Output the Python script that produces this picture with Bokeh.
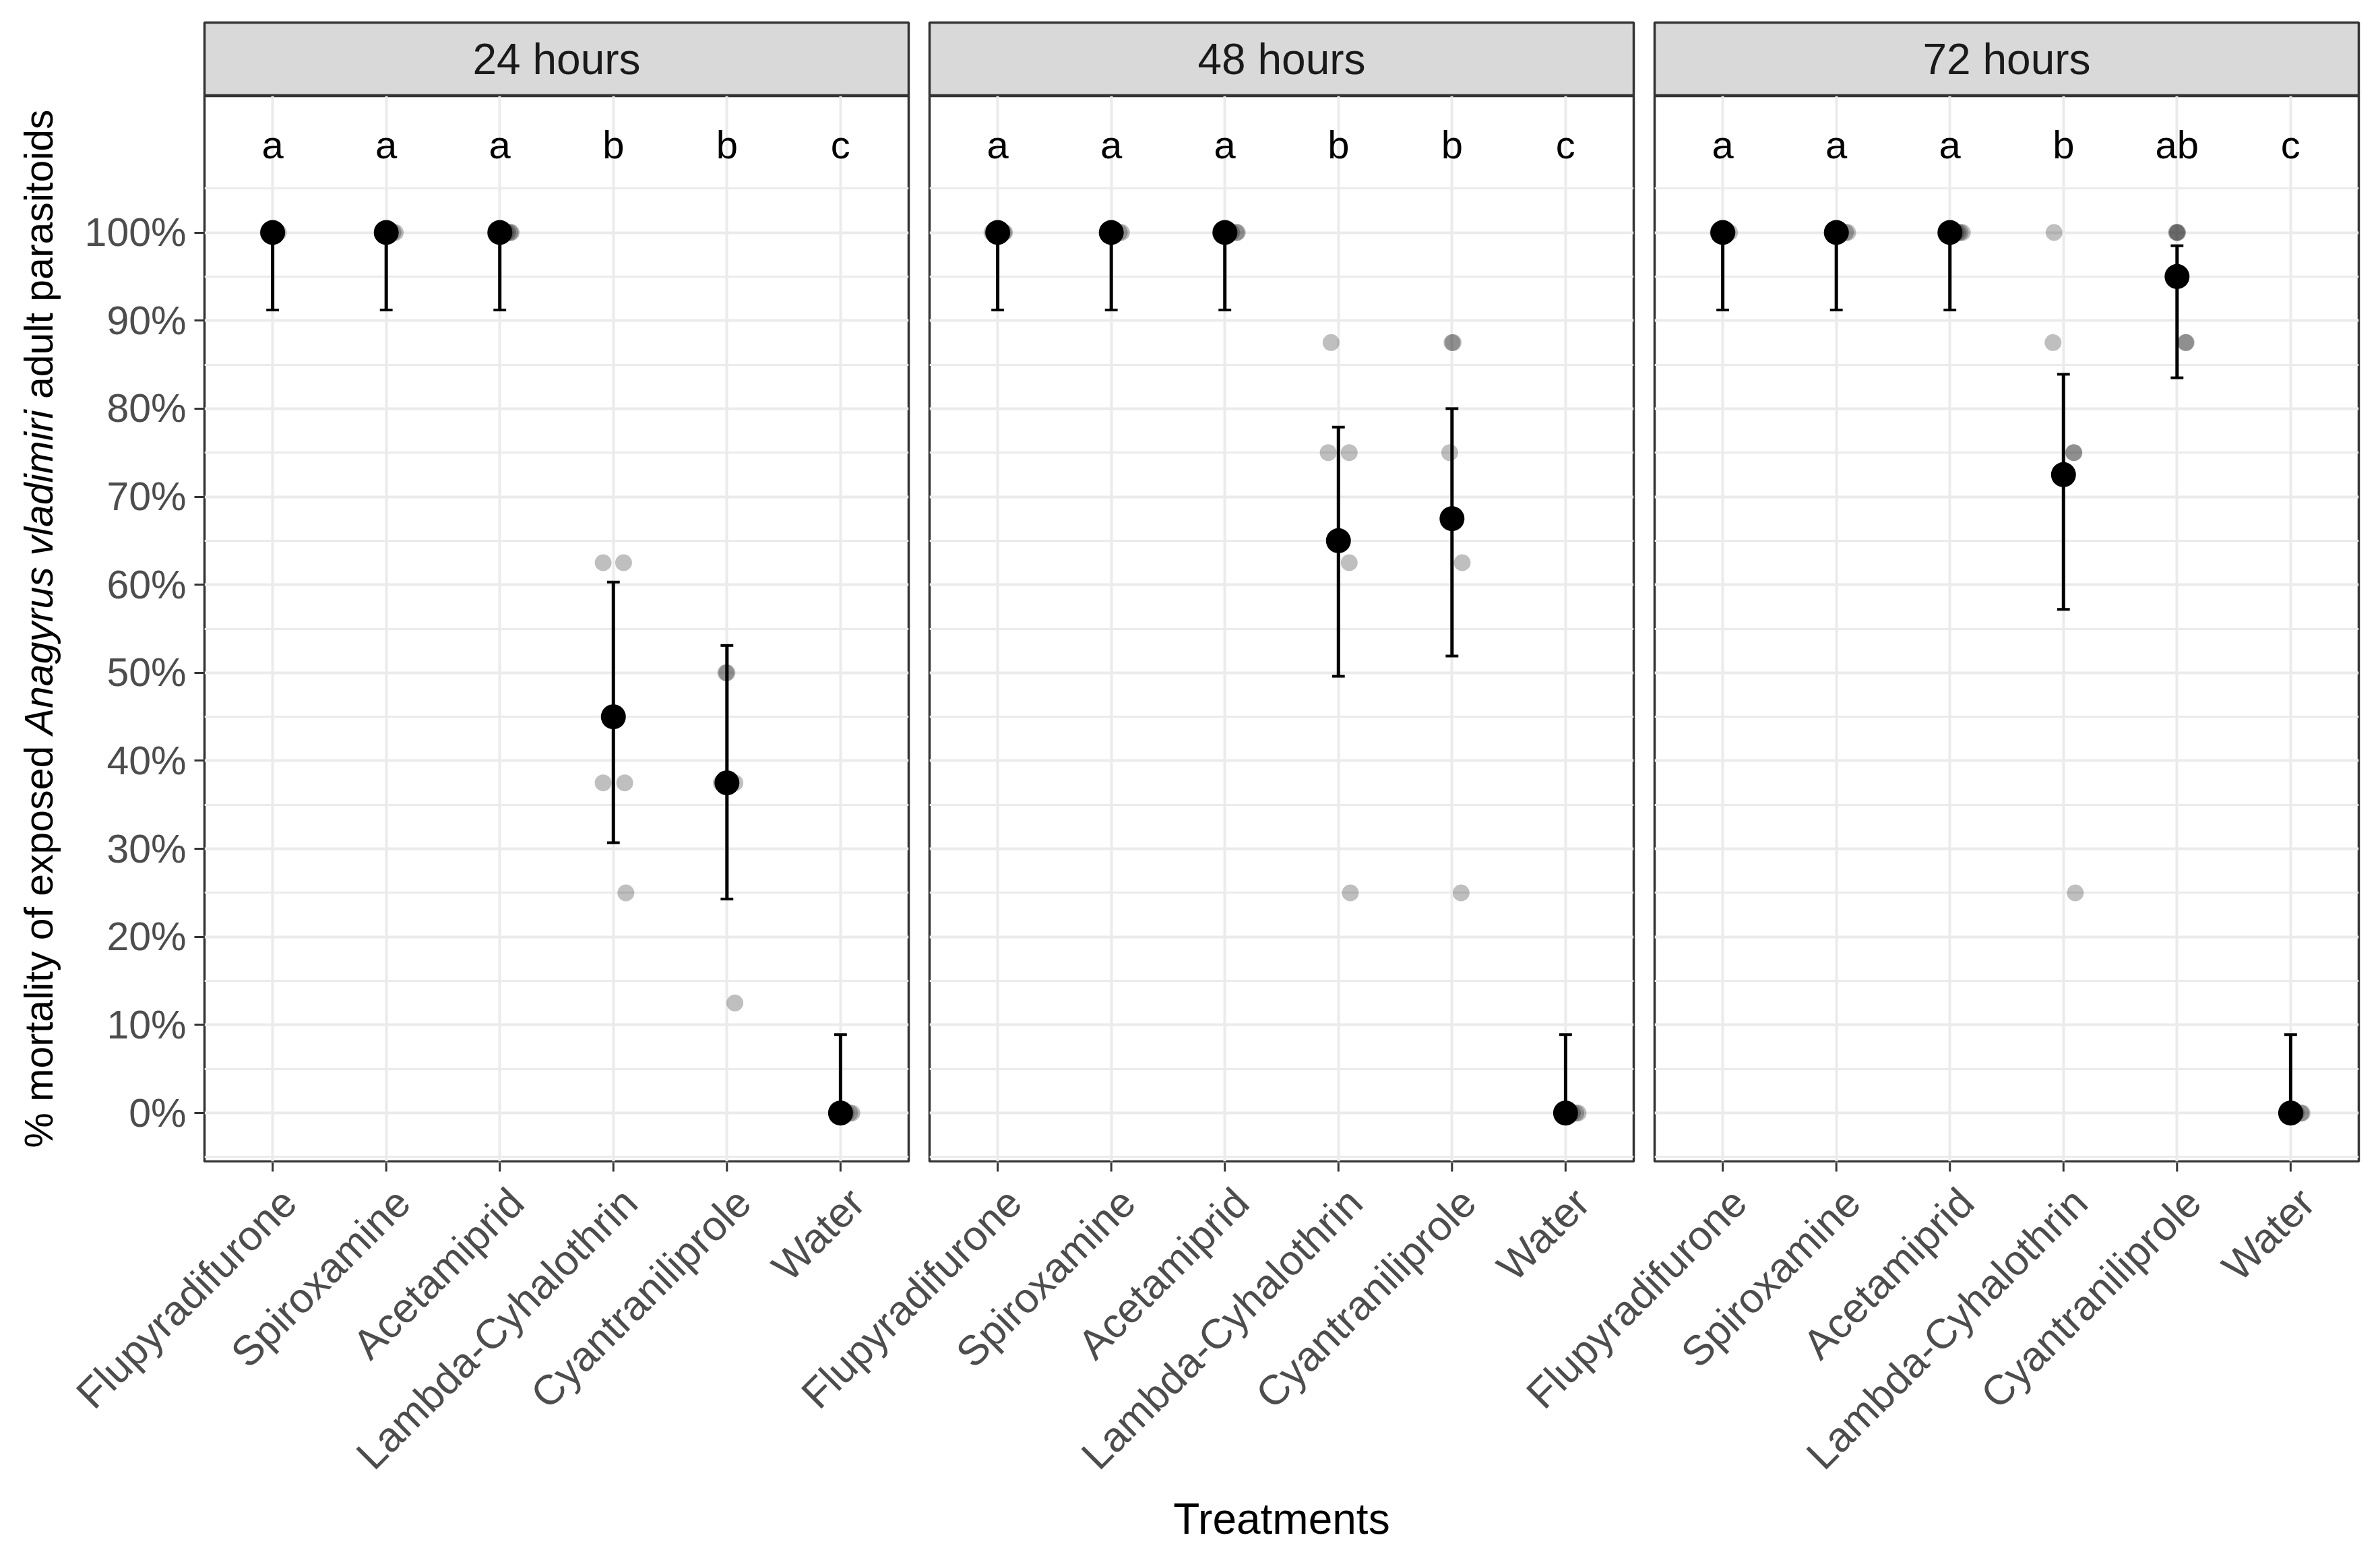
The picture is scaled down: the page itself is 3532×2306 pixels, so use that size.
import math
from bokeh.plotting import figure
from bokeh.layouts import row, column
from bokeh.models import Range1d, FixedTicker
from bokeh.core.properties import value
from bokeh.embed import file_html
from bokeh.resources import INLINE

# ---------------- data ----------------
treatments = ["Flupyradifurone", "Spiroxamine", "Acetamiprid",
              "Lambda-Cyhalothrin", "Cyantraniliprole", "Water"]
timepoints = ["24 hours", "48 hours", "72 hours"]

mean_24 = [100, 100, 100, 45.0, 37.5, 0]
mean_48 = [100, 100, 100, 65.0, 67.5, 0]
mean_72 = [100, 100, 100, 72.5, 95.0, 0]

lower_24 = [91.2, 91.2, 91.2, 30.7, 24.3, 0]
lower_48 = [91.2, 91.2, 91.2, 49.6, 51.9, 0]
lower_72 = [91.2, 91.2, 91.2, 57.2, 83.5, 0]

upper_24 = [100, 100, 100, 60.3, 53.1, 8.9]
upper_48 = [100, 100, 100, 77.9, 80.0, 8.9]
upper_72 = [100, 100, 100, 83.9, 98.5, 8.9]

letters_24 = ["a", "a", "a", "b", "b", "c"]
letters_48 = ["a", "a", "a", "b", "b", "c"]
letters_72 = ["a", "a", "a", "b", "ab", "c"]

# replicate mortality values (5 replicates per treatment)
reps_24 = [[100] * 5, [100] * 5, [100] * 5,
           [62.5, 62.5, 37.5, 37.5, 25.0],
           [50.0, 50.0, 37.5, 37.5, 12.5],
           [0] * 5]
reps_48 = [[100] * 5, [100] * 5, [100] * 5,
           [87.5, 75.0, 75.0, 62.5, 25.0],
           [87.5, 87.5, 75.0, 62.5, 25.0],
           [0] * 5]
reps_72 = [[100] * 5, [100] * 5, [100] * 5,
           [100.0, 87.5, 75.0, 75.0, 25.0],
           [100.0, 100.0, 100.0, 87.5, 87.5],
           [0] * 5]

# horizontal jitter of the replicate points (category units)
jit_24 = [[-0.02, 0.03, 0.05, -0.04, 0.01],
          [0.06, 0.02, -0.03, 0.08, 0.0],
          [0.09, 0.05, 0.10, -0.02, 0.07],
          [-0.09, 0.09, -0.09, 0.10, 0.11],
          [0.0, -0.01, 0.07, -0.05, 0.07],
          [0.05, 0.10, 0.03, 0.08, -0.02]]
jit_48 = [[-0.03, 0.05, 0.02, -0.05, 0.06],
          [0.07, 0.03, -0.02, 0.09, 0.01],
          [0.10, 0.06, 0.11, -0.01, 0.04],
          [-0.065, -0.09, 0.095, 0.095, 0.105],
          [0.0, 0.01, -0.02, 0.09, 0.08],
          [0.06, 0.11, 0.02, 0.09, -0.01]]
jit_72 = [[-0.04, 0.04, 0.06, -0.03, 0.02],
          [0.08, 0.02, -0.01, 0.10, 0.04],
          [0.11, 0.05, 0.09, -0.02, 0.07],
          [-0.083, -0.092, 0.092, 0.09, 0.104],
          [0.0, 0.005, -0.005, 0.075, 0.08],
          [0.05, 0.10, 0.04, 0.09, -0.02]]

y_major = list(range(0, 101, 10))
y_minor = [-5] + [v + 5 for v in range(0, 101, 10)]

# ---------------- style / layout ----------------
FONT = "Liberation Sans"
FRAME_W = 1045
FRAME_H = 1581
STRIP_H = 109
TOP = 33
YT_W = 113
PAD_L = [190, 16, 16]
PAD_R = [15, 15, 16]
PANEL_BOTTOM = 2
BOT_H = 563
TOTAL_W = YT_W + sum(PAD_L) + sum(PAD_R) + 3 * FRAME_W
BORDER = "#333333"
GRID = "#EBEBEB"
X_START, X_END = 0.4, 6.6
UNIT = FRAME_W / (X_END - X_START)          # pixels per category unit
PERIOD = (FRAME_W + PAD_R[0] + PAD_L[1]) / UNIT


def make_strip(i, title):
    s = figure(frame_width=FRAME_W, frame_height=STRIP_H,
               x_range=Range1d(0, 1), y_range=Range1d(0, 1),
               x_axis_location=None, y_axis_location=None,
               toolbar_location=None, output_backend="svg",
               min_border_left=PAD_L[i], min_border_right=PAD_R[i],
               min_border_top=TOP, min_border_bottom=0,
               background_fill_color="#D9D9D9",
               outline_line_color=BORDER, outline_line_width=3.5)
    s.grid.visible = False
    s.text(x=[0.5], y=[0.5], text=[title], text_font=value(FONT),
           text_font_size="64px", text_color="#1A1A1A",
           text_align="center", text_baseline="middle")
    return s


def make_panel(i, means, lo, hi, letters, reps, jits):
    p = figure(frame_width=FRAME_W, frame_height=FRAME_H,
               x_range=Range1d(X_START, X_END), y_range=Range1d(-5.5, 115.5),
               x_axis_location=None,
               y_axis_location="left" if i == 0 else None,
               toolbar_location=None, output_backend="svg",
               min_border_left=PAD_L[i], min_border_right=PAD_R[i],
               min_border_top=0, min_border_bottom=PANEL_BOTTOM,
               background_fill_color="white",
               outline_line_color=BORDER, outline_line_width=3.5)
    pos = [k + 1 for k in range(len(treatments))]

    # y axis
    if i == 0:
        p.yaxis.ticker = FixedTicker(ticks=y_major, minor_ticks=[])
        p.yaxis.major_label_overrides = {v: f"{v}%" for v in y_major}
        p.yaxis.major_label_text_font = FONT
        p.yaxis.major_label_text_font_size = "59px"
        p.yaxis.major_label_text_color = "#4D4D4D"
        p.yaxis.major_label_standoff = 12
        p.yaxis.axis_line_color = None
        p.yaxis.major_tick_out = 15
        p.yaxis.major_tick_in = 0
        p.yaxis.major_tick_line_width = 3
        p.yaxis.major_tick_line_color = BORDER
        p.yaxis.minor_tick_line_color = None

    # grids
    p.xgrid.ticker = FixedTicker(ticks=pos, minor_ticks=[])
    p.xgrid.grid_line_color = GRID
    p.xgrid.grid_line_width = 4
    p.ygrid.ticker = FixedTicker(ticks=y_major, minor_ticks=y_minor)
    p.ygrid.grid_line_color = GRID
    p.ygrid.grid_line_width = 4
    p.ygrid.minor_grid_line_color = GRID
    p.ygrid.minor_grid_line_width = 3

    # jittered replicate points
    xs, ys = [], []
    for k, (vals, offs) in enumerate(zip(reps, jits)):
        for v, o in zip(vals, offs):
            xs.append(k + 1 + o)
            ys.append(v)
    p.scatter(x=xs, y=ys, size=25, fill_color="black", fill_alpha=0.25,
              line_color=None)

    # error bars
    cap = 0.056
    p.segment(x0=pos, y0=lo, x1=pos, y1=hi, line_color="black", line_width=5)
    p.segment(x0=[x - cap for x in pos], y0=lo, x1=[x + cap for x in pos],
              y1=lo, line_color="black", line_width=4)
    p.segment(x0=[x - cap for x in pos], y0=hi, x1=[x + cap for x in pos],
              y1=hi, line_color="black", line_width=4)

    # means
    p.scatter(x=pos, y=means, size=37, fill_color="black", line_color=None)

    # significance letters
    p.text(x=pos, y=[110] * len(pos), text=letters, text_font=value(FONT),
           text_font_size="58px", text_color="black",
           text_align="center", text_baseline="middle")
    return p


# ---------------- y-axis title with italic species name ----------------
ARIAL_W = {' ': 278, '%': 889, 'a': 556, 'b': 556, 'c': 500, 'd': 556,
           'e': 556, 'f': 278, 'g': 556, 'h': 556, 'i': 222, 'l': 222,
           'm': 833, 'n': 556, 'o': 556, 'p': 556, 'r': 333, 's': 500,
           't': 278, 'u': 556, 'v': 500, 'x': 500, 'y': 500, 'A': 667}
YT_SIZE = 59
title_parts = [("% mortality of exposed", "normal"),
               ("Anagyrus vladimiri", "italic"),
               ("adult parasitoids", "normal")]


def tw(s):
    return sum(ARIAL_W.get(c, 556) for c in s) / 1000.0 * YT_SIZE


space = tw(" ")
widths = [tw(t) for t, _ in title_parts]
total = sum(widths) + space * (len(widths) - 1)

yt = figure(frame_width=YT_W, frame_height=FRAME_H,
            x_range=Range1d(0, YT_W), y_range=Range1d(0, FRAME_H),
            x_axis_location=None, y_axis_location=None,
            toolbar_location=None, output_backend="svg",
            min_border_left=0, min_border_right=0,
            min_border_top=TOP + STRIP_H, min_border_bottom=0,
            outline_line_color=None)
yt.grid.visible = False
start = FRAME_H / 2 - total / 2
for (t, style), w in zip(title_parts, widths):
    yt.text(x=[57], y=[start], text=[t], angle=math.pi / 2,
            text_font=value(FONT), text_font_size=f"{YT_SIZE}px",
            text_font_style=style, text_color="black",
            text_align="left", text_baseline="middle")
    start += w + space

# ---------------- shared bottom strip: ticks, rotated tick labels, x title ----------------
gx0 = X_START - (YT_W + PAD_L[0]) / UNIT
gx1 = gx0 + TOTAL_W / UNIT
bot = figure(frame_width=TOTAL_W, frame_height=BOT_H,
             x_range=Range1d(gx0, gx1), y_range=Range1d(0, BOT_H),
             x_axis_location=None, y_axis_location=None,
             toolbar_location=None, output_backend="svg",
             min_border_left=0, min_border_right=0,
             min_border_top=0, min_border_bottom=0,
             outline_line_color=None)
bot.grid.visible = False
lab_x, lab_t = [], []
for pi_ in range(len(timepoints)):
    for k, t in enumerate(treatments):
        lab_x.append(pi_ * PERIOD + k + 1)
        lab_t.append(t)
# tick marks below each panel
bot.segment(x0=lab_x, y0=[BOT_H + 2] * len(lab_x), x1=lab_x,
            y1=[BOT_H - 13] * len(lab_x), line_color=BORDER, line_width=3)
bot.text(x=lab_x, y=[BOT_H - 24] * len(lab_x), text=lab_t, angle=math.pi / 4,
         text_font=value(FONT), text_font_size="62px", text_color="#4D4D4D",
         text_align="right", text_baseline="top")
mid_x = (X_START + 2 * PERIOD + X_END) / 2
bot.text(x=[mid_x], y=[BOT_H - 528], text=["Treatments"],
         text_font=value(FONT), text_font_size="64px", text_color="black",
         text_align="center", text_baseline="middle")

# ---------------- assemble ----------------
data = [(mean_24, lower_24, upper_24, letters_24, reps_24, jit_24),
        (mean_48, lower_48, upper_48, letters_48, reps_48, jit_48),
        (mean_72, lower_72, upper_72, letters_72, reps_72, jit_72)]

cols = []
for i, tp in enumerate(timepoints):
    m, lo, hi, let, rp, jt = data[i]
    cols.append(column(make_strip(i, tp), make_panel(i, m, lo, hi, let, rp, jt),
                       spacing=0))

layout = column(row(yt, *cols, spacing=0), bot, spacing=0)

open("out.html", "w").write(file_html(layout, INLINE))
